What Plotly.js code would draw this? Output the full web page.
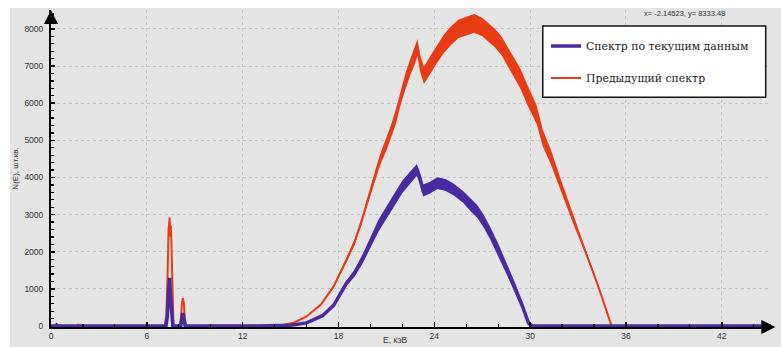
<!DOCTYPE html>
<html><head><meta charset="utf-8">
<script src="https://cdn.plot.ly/plotly-3.0.1.min.js"></script>
<style>html,body{margin:0;padding:0;background:#fff;}#chart{width:781px;height:347px;}</style>
</head><body><div id="chart"></div>
<script>
// Energy (keV) and counts for the current spectrum (blue)
const blueE = [0, 0.28, 0.35, 0.42, 7.2, 7.28, 7.36, 7.43, 7.48, 7.53, 7.58, 7.63, 8.12, 8.2, 8.26, 8.32, 8.4, 13.0, 14.0, 15.0, 16.0, 17.0, 17.7, 18.1, 18.5, 19.0, 19.5, 20.0, 20.5, 21.0, 21.5, 22.0, 22.5, 22.9, 23.05, 23.3, 23.7, 24.2, 24.7, 25.2, 25.8, 26.3, 26.7, 27.1, 27.5, 28.0, 28.5, 29.0, 29.5, 29.9, 30.15, 45.08];
const blueN = [0, 0, 30, 0, 0, 250, 900, 1300, 800, 600, 250, 0, 0, 200, 350, 200, 0, 0, 5, 20, 85, 280, 560, 880, 1150, 1420, 1800, 2250, 2700, 3050, 3400, 3750, 4000, 4200, 4050, 3650, 3720, 3850, 3800, 3680, 3480, 3250, 3080, 2820, 2500, 2050, 1580, 1080, 560, 80, 0, 0];
// half-width of the noisy band around the blue curve
const blueNoise = [0, 0, 0, 0, 0, 0, 0, 0, 0, 0, 0, 0, 0, 0, 0, 0, 0, 0, 0, 0, 10, 25, 40, 55, 70, 95, 120, 140, 160, 170, 170, 170, 170, 160, 160, 160, 160, 160, 160, 160, 160, 170, 170, 170, 170, 170, 160, 140, 100, 30, 0, 0];

// Energy (keV) and counts for the previous spectrum (red)
const redE = [0, 1.6, 1.7, 1.8, 7.12, 7.22, 7.3, 7.36, 7.43, 7.47, 7.51, 7.56, 7.61, 7.67, 8.06, 8.14, 8.2, 8.26, 8.32, 8.38, 8.46, 12.5, 13.5, 14.4, 15.2, 16.0, 16.9, 17.7, 18.5, 19.0, 19.4, 19.9, 20.3, 20.6, 21.0, 21.3, 21.6, 21.9, 22.2, 22.5, 22.75, 22.95, 23.1, 23.35, 23.7, 24.2, 24.6, 25.0, 25.5, 26.0, 26.5, 27.0, 27.4, 27.8, 28.2, 28.6, 29.0, 29.4, 29.8, 30.4, 30.8, 31.3, 31.9, 32.3, 32.8, 33.4, 33.9, 34.4, 34.8, 35.1, 45.08];
const redN = [0, 0, 40, 0, 0, 300, 1400, 2600, 2920, 2400, 2700, 1500, 400, 0, 0, 250, 620, 760, 600, 200, 0, 0, 0, 20, 90, 260, 580, 1070, 1780, 2250, 2750, 3500, 4050, 4470, 4900, 5250, 5650, 6170, 6600, 6980, 7250, 7500, 7100, 6750, 7000, 7350, 7600, 7800, 8000, 8080, 8150, 8050, 7900, 7750, 7550, 7250, 6950, 6650, 6250, 5700, 5050, 4550, 3800, 3350, 2750, 2100, 1500, 900, 350, 0, 0];
const redNoise = [0, 0, 0, 0, 0, 0, 0, 0, 0, 0, 0, 0, 0, 0, 0, 0, 0, 0, 0, 0, 0, 0, 0, 0, 0, 10, 20, 40, 60, 80, 100, 120, 140, 150, 170, 180, 200, 200, 220, 220, 230, 230, 230, 230, 240, 250, 250, 250, 250, 250, 250, 250, 250, 250, 250, 250, 260, 270, 270, 250, 220, 200, 170, 140, 110, 80, 50, 30, 10, 0, 0];

const xTicks = [0, 6, 12, 18, 24, 30, 36, 42];
const yTicks = [0, 1000, 2000, 3000, 4000, 5000, 6000, 7000, 8000];

const seriesNames = ['Спектр по текущим данным', 'Предыдущий спектр'];
const xTitle = 'E, кэВ';
const yTitle = 'N(E), шт.кв.';
const cursorText = 'x= -2.14523, y= 8333.48';

const BLUE = '#4a2aa0', RED = '#e83c14';

function band(E, N, S, color) {
  const xs = E.concat(E.slice().reverse());
  const up = N.map((v, i) => v + S[i]);
  const lo = N.map((v, i) => Math.max(0, v - S[i])).reverse();
  return {x: xs, y: up.concat(lo), type: 'scatter', mode: 'lines', fill: 'toself',
    fillcolor: color, line: {width: 0, color: color}, showlegend: false, hoverinfo: 'skip'};
}

const traces = [
  band(redE, redN, redNoise, RED),
  {x: redE, y: redN, type: 'scatter', mode: 'lines', name: seriesNames[1],
   line: {color: RED, width: 2}, legendgroup: 'r', legendrank: 2},
  band(blueE, blueN, blueNoise, BLUE),
  {x: blueE, y: blueN, type: 'scatter', mode: 'lines', name: seriesNames[0],
   line: {color: BLUE, width: 3.5}, legendgroup: 'b', legendrank: 1}
];

const axisFont = {family: 'Liberation Sans, Arial, sans-serif', size: 8.5, color: '#333'};

const layout = {
  width: 781, height: 347,
  margin: {l: 51, r: 10, t: 10, b: 19.5},
  paper_bgcolor: '#ffffff', plot_bgcolor: '#e4e4e4',
  showlegend: true,
  legend: {x: 0.6875, y: 0.932, xanchor: 'left', yanchor: 'top', bgcolor: 'rgba(0,0,0,0)',
    borderwidth: 0, traceorder: 'grouped', tracegroupgap: 13,
    font: {family: 'DejaVu Serif, serif', size: 10.9, color: '#222'}},
  xaxis: {range: [0, 45.08], tickvals: xTicks, ticktext: xTicks.map(String),
    showline: true, linecolor: '#000', linewidth: 2, ticks: 'inside', ticklen: 5, tickwidth: 1.5, tickcolor: '#000',
    minor: {dtick: 2, ticks: 'inside', ticklen: 3, tickwidth: 1.2, tickcolor: '#000', showgrid: false},
    showgrid: true, gridcolor: '#c4c4c4', griddash: 'dot', gridwidth: 1, zeroline: false,
    tickfont: axisFont, fixedrange: true},
  yaxis: {range: [-25, 8510], tickvals: yTicks, ticktext: yTicks.map(String),
    showline: true, linecolor: '#000', linewidth: 2, ticks: 'inside', ticklen: 4, tickwidth: 1.5, tickcolor: '#000',
    minor: {dtick: 200, ticks: 'inside', ticklen: 3, tickwidth: 1.2, tickcolor: '#000', showgrid: false},
    showgrid: true, gridcolor: '#c4c4c4', griddash: 'dot', gridwidth: 1, zeroline: false,
    tickfont: axisFont, ticklabelstandoff: 4, fixedrange: true,
    title: {text: yTitle, font: {family: 'Liberation Sans, Arial, sans-serif', size: 8, color: '#333'}, standoff: 5}},
  shapes: [
    {type: 'rect', xref: 'paper', yref: 'paper', x0: -0.0569, x1: 1.02, y0: -0.1, y1: 1.0063,
     fillcolor: '#e4e4e4', line: {width: 0}, layer: 'below'},
    {type: 'rect', xref: 'paper', yref: 'paper', x0: 0.683, x1: 0.9926, y0: 0.725, y1: 0.9496,
     fillcolor: '#ffffff', line: {color: '#111', width: 1.5}, layer: 'above'}
  ],
  annotations: [
    {xref: 'paper', yref: 'paper', x: 1.006, y: 0, ax: -13, ay: 0, text: '', showarrow: true,
     arrowhead: 2, arrowsize: 1.4, arrowwidth: 2, arrowcolor: '#000'},
    {xref: 'paper', yref: 'paper', x: 0, y: 1.0, ax: 0, ay: 13, text: '', showarrow: true,
     arrowhead: 2, arrowsize: 1.4, arrowwidth: 2, arrowcolor: '#000'},
    {xref: 'paper', yref: 'paper', x: 0.88, y: 0.989, text: cursorText, showarrow: false,
     xanchor: 'center', yanchor: 'middle',
     font: {family: 'Liberation Sans, Arial, sans-serif', size: 7.5, color: '#333'}},
    {xref: 'paper', yref: 'paper', x: 0.478, y: -0.0598, text: xTitle, showarrow: false,
     xanchor: 'center', yanchor: 'bottom', borderpad: 0,
     font: {family: 'Liberation Sans, Arial, sans-serif', size: 8.5, color: '#333'}}
  ]
};

Plotly.newPlot('chart', traces, layout, {displayModeBar: false, staticPlot: true});
</script></body></html>
